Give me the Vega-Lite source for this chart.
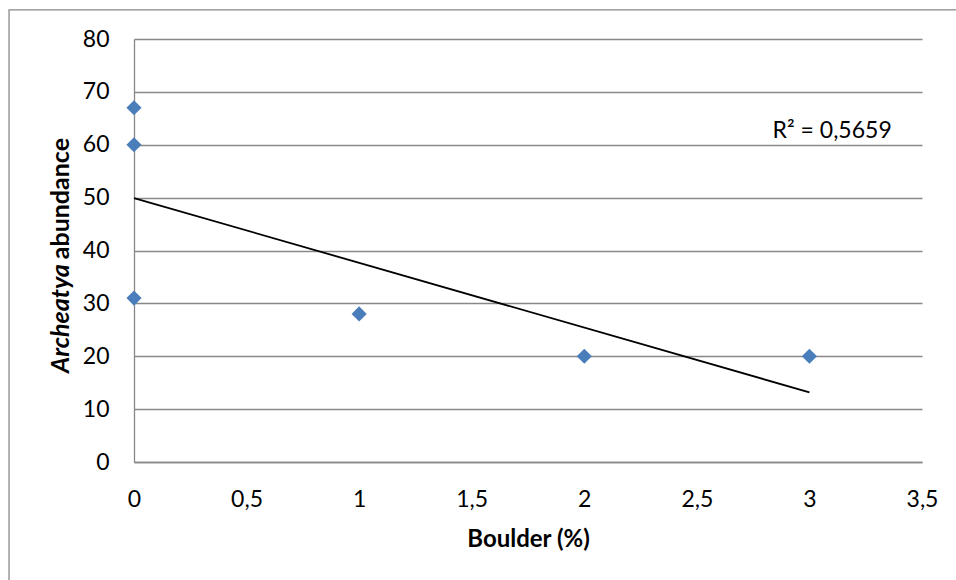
{
  "$schema": "https://vega.github.io/schema/vega-lite/v6.json",
  "width": 788,
  "height": 423,
  "autosize": "none",
  "padding": {"left": 134, "top": 39, "right": 34, "bottom": 118},
  "background": "white",
  "config": {
    "view": {"stroke": null},
    "font": "Lato",
    "axis": {
      "domainColor": "#888888",
      "domainWidth": 1.3,
      "gridColor": "#888888",
      "gridWidth": 1.3,
      "ticks": false,
      "tickSize": 0,
      "labelFont": "Lato",
      "labelFontSize": 23,
      "labelColor": "#000000",
      "labelFlush": false,
      "titleFont": "Lato",
      "titleFontSize": 24,
      "titleFontWeight": "bold",
      "titleColor": "#000000"
    }
  },
  "datasets": {
    "samples": [
      {"boulder": 0, "abundance": 67},
      {"boulder": 0, "abundance": 60},
      {"boulder": 0, "abundance": 31},
      {"boulder": 1, "abundance": 28},
      {"boulder": 2, "abundance": 20},
      {"boulder": 3, "abundance": 20}
    ]
  },
  "layer": [
    {
      "data": {"name": "samples"},
      "mark": {"type": "point", "shape": "diamond", "filled": true, "size": 230, "color": "#4A7EBB", "opacity": 1},
      "encoding": {
        "x": {
          "field": "boulder",
          "type": "quantitative",
          "scale": {"domain": [0, 3.5], "nice": false, "zero": true},
          "axis": {
            "title": "Boulder (%)",
            "values": [0, 0.5, 1, 1.5, 2, 2.5, 3, 3.5],
            "labelExpr": "replace(toString(datum.value), '.', ',')",
            "grid": false,
            "labelPadding": 26,
            "titlePadding": 16
          }
        },
        "y": {
          "field": "abundance",
          "type": "quantitative",
          "scale": {"domain": [0, 80], "nice": false},
          "axis": {
            "title": null,
            "values": [0, 10, 20, 30, 40, 50, 60, 70, 80],
            "grid": true,
            "labelPadding": 25
          }
        }
      }
    },
    {
      "data": {"name": "samples"},
      "transform": [
        {"regression": "abundance", "on": "boulder", "method": "linear", "extent": [0, 3]}
      ],
      "mark": {"type": "line", "color": "#000000", "strokeWidth": 1.8},
      "encoding": {
        "x": {"field": "boulder", "type": "quantitative"},
        "y": {"field": "abundance", "type": "quantitative"}
      }
    },
    {
      "description": "outer chart frame",
      "data": {"values": [{}]},
      "mark": {"type": "rect", "fill": null, "stroke": "#888888", "strokeWidth": 1.3},
      "encoding": {
        "x": {"datum": -0.555, "type": "quantitative"},
        "x2": {"datum": 4.5},
        "y": {"datum": 85.5, "type": "quantitative"},
        "y2": {"datum": -40}
      }
    },
    {
      "description": "trend line fit label",
      "data": {"values": [{}]},
      "mark": {"type": "text", "text": "R² = 0,5659", "font": "Lato", "fontSize": 23, "align": "center", "baseline": "alphabetic", "color": "#000000"},
      "encoding": {
        "x": {"datum": 3.101, "type": "quantitative"},
        "y": {"datum": 61.33, "type": "quantitative"}
      }
    },
    {
      "description": "y axis title, italic genus name",
      "data": {"values": [{}]},
      "mark": {"type": "text", "text": "Archeatya", "font": "Lato", "fontSize": 25, "fontWeight": "bold", "fontStyle": "italic", "angle": 270, "align": "right", "baseline": "alphabetic", "color": "#000000"},
      "encoding": {
        "x": {"datum": -0.2885, "type": "quantitative"},
        "y": {"datum": 37.4, "type": "quantitative"}
      }
    },
    {
      "description": "y axis title, remainder",
      "data": {"values": [{}]},
      "mark": {"type": "text", "text": "abundance", "font": "Lato", "fontSize": 25, "fontWeight": "bold", "angle": 270, "align": "left", "baseline": "alphabetic", "color": "#000000"},
      "encoding": {
        "x": {"datum": -0.2885, "type": "quantitative"},
        "y": {"datum": 38.35, "type": "quantitative"}
      }
    }
  ]
}
